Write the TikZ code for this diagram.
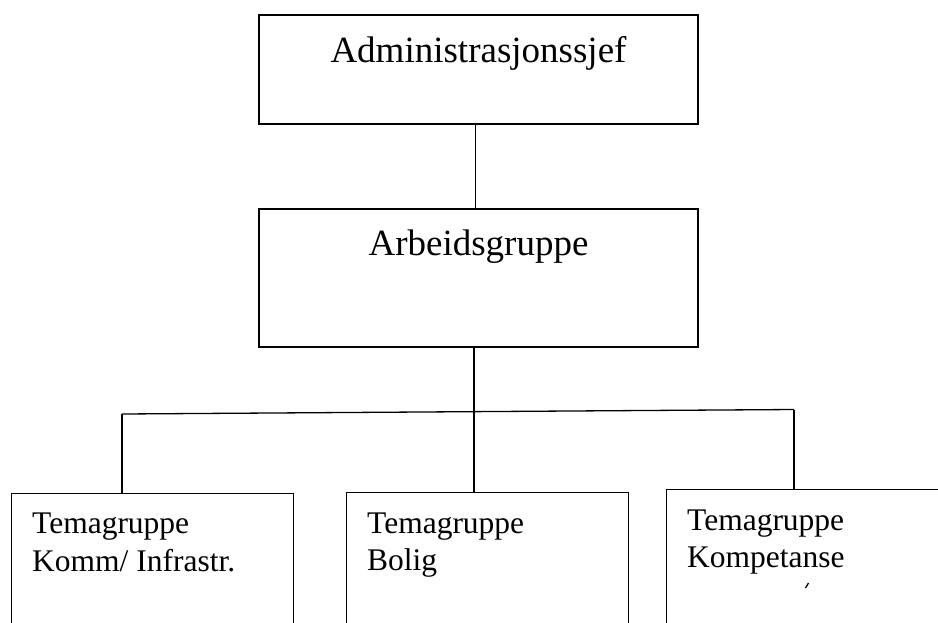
\documentclass[tikz,border=0pt]{standalone}
\usepackage{fontspec}
\setmainfont{Liberation Serif}
\begin{document}
\begin{tikzpicture}[x=1pt,y=-1pt,
  box/.style={draw, line width=1.4pt, rectangle, inner sep=0pt},
  big/.style={font=\fontsize{37}{44}\selectfont, inner sep=0pt, anchor=base},
  small/.style={font=\fontsize{31.5}{37}\selectfont, inner sep=0pt, anchor=base west, align=left},
  link/.style={line width=1.3pt}]
\useasboundingbox (0,0) rectangle (938,622);
% top boxes
\node[box, minimum width=439pt, minimum height=109pt] (adm) at (478.5,69.5) {};
\node[big] (admt) at (478.5,62) {Administrasjonssjef};
\node[box, minimum width=439pt, minimum height=138pt] (arb) at (478.5,278) {};
\node[big] (arbt) at (478.5,255) {Arbeidsgruppe};
% bottom boxes (cut off by the page edge)
\node[box, anchor=north west, minimum width=282pt, minimum height=160pt] (b1) at (11,492.5) {};
\node[box, anchor=north west, minimum width=282pt, minimum height=160pt] (b2) at (346,492) {};
\node[box, anchor=north west, minimum width=290pt, minimum height=160pt] (b3) at (666,489) {};
\node[small] (t1a) at (32,533) {Temagruppe};
\node[small] (t1b) at (32,571) {Komm/ Infrastr.};
\node[small] (t2a) at (367,533) {Temagruppe};
\node[small] (t2b) at (367,570) {Bolig};
\node[small] (t3a) at (687,530) {Temagruppe};
\node[small] (t3b) at (687,567) {Kompetanse};
% stray mark
\coordinate (m1) at (805.5,588);
\coordinate (m2) at (808.5,583);
\draw[line width=1.3pt] (m1) -- (m2);
% connectors
\coordinate (hl) at (122,414);
\coordinate (hm) at (474,411.5);
\coordinate (hr) at (794,409.5);
\draw[link] ([xshift=-3pt]adm.south) -- ([xshift=-3pt]arb.north);
\draw[link] (arb.south -| hm) -- (hm) -- (b2.north -| hm);
\draw[link] (hl) -- (hr);
\draw[link] (hl) -- (b1.north -| hl);
\draw[link] (hr) -- (b3.north -| hr);
\end{tikzpicture}
\end{document}
